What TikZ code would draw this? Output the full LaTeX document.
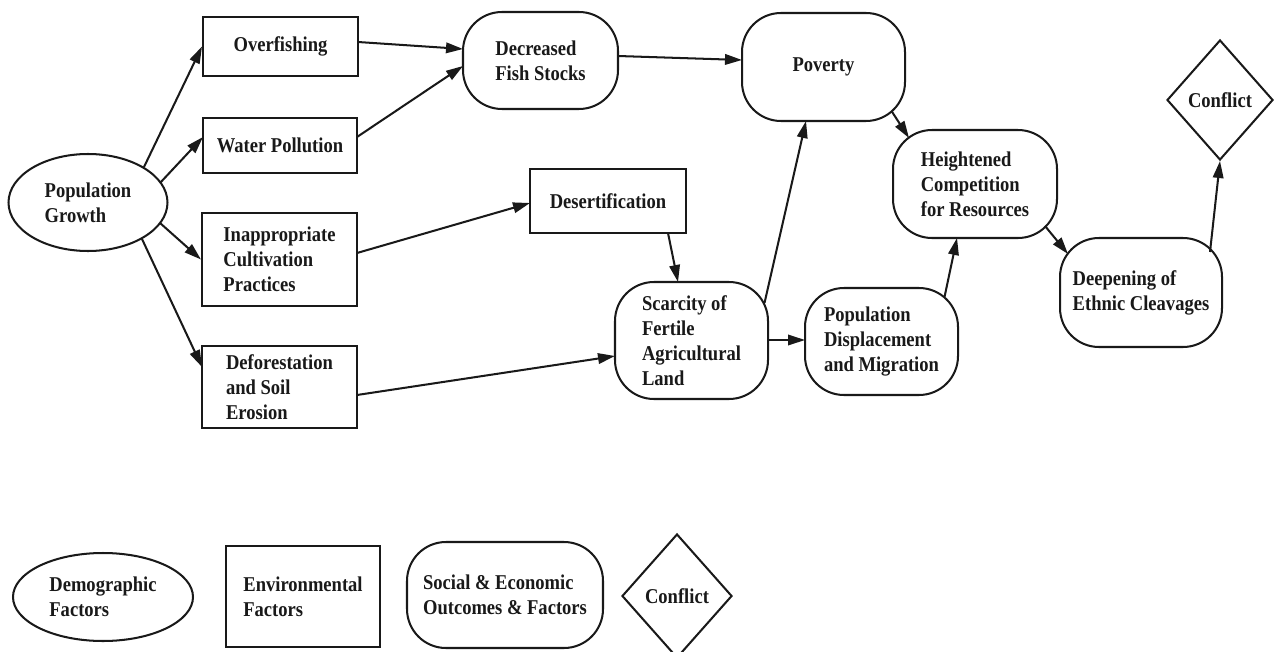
\documentclass[tikz,border=0pt]{standalone}
\usepackage{fontspec}
\setmainfont{Liberation Serif}[FakeStretch=0.88]
\usetikzlibrary{shapes.geometric,arrows.meta}

\begin{document}
\begin{tikzpicture}[x=0.02cm,y=-0.02cm,
  every node/.style={font=\fontsize{12}{14.2}\selectfont\bfseries,
    align=left, inner sep=0pt, line width=1.15pt, draw=black!90, text=black!90},
  sz/.style 2 args={minimum width={#1*0.02cm}, minimum height={#2*0.02cm}},
  demog/.style={ellipse},
  envbox/.style={rectangle},
  socbox/.style={rectangle, rounded corners=0.78cm},
  conf/.style={diamond},
  arr/.style={line width=1.15pt, draw=black!90,
    -{Triangle[length=0.34cm,width=0.21cm]}},
]
% page
\fill[white] (0,0) rectangle (1274,652);
\useasboundingbox (0,0) rectangle (1274,652);

% demographic driver
\node[demog, sz={159}{97}] (pg) at (88,202.5) {Population\\Growth};

% environmental factors
\node[envbox, sz={155}{59}] (of)  at (280.5,46.5) {Overfishing};
\node[envbox, sz={154}{55}] (wp)  at (280,145.5)  {Water Pollution};
\node[envbox, sz={155}{93}] (icp) at (279.5,259.5) {Inappropriate\\Cultivation\\Practices};
\node[envbox, sz={155}{82}] (dse) at (279.5,387)  {Deforestation\\and Soil\\Erosion};
\node[envbox, sz={156}{64}] (des) at (608,201)    {Desertification};

% social and economic outcomes
\node[socbox, sz={155}{97}]  (dfs) at (540.5,60.5) {Decreased\\Fish Stocks};
\node[socbox, sz={163}{108}] (pov) at (823.5,67)   {Poverty};
\node[socbox, sz={153}{117}] (sfl) at (691.5,340.5) {Scarcity of\\Fertile\\Agricultural\\Land};
\node[socbox, sz={153}{107}] (pdm) at (881.5,341.5) {Population\\Displacement\\and Migration};
\node[socbox, sz={164}{108}] (hcr) at (975,184)    {Heightened\\Competition\\for Resources};
\node[socbox, sz={162}{109}] (dec) at (1141,292.5) {Deepening of\\Ethnic Cleavages};

% outcome
\node[conf, sz={106}{120}] (cf) at (1220,100) {Conflict};

% causal links
\draw[arr] ([shift={(56,-35.5)}]pg.center) -- (of.west);
\draw[arr] ([shift={(72,-19.5)}]pg.center) -- ([shift={(-77,-8.5)}]wp.center);
\draw[arr] ([shift={(72,20.5)}]pg.center)  -- (icp.west);
\draw[arr] ([shift={(54,36.5)}]pg.center)  -- ([shift={(-77.5,-20)}]dse.center);
\draw[arr] ([shift={(77.5,-4.5)}]of.center) -- ([shift={(-77.5,-11.5)}]dfs.center);
\draw[arr] ([shift={(77,-8.5)}]wp.center)   -- ([shift={(-77.5,5.5)}]dfs.center);
\draw[arr] ([shift={(77.5,-6.5)}]icp.center) -- ([shift={(-78,2)}]des.center);
\draw[arr] ([shift={(77.5,8)}]dse.center)   -- ([shift={(-76.5,15.5)}]sfl.center);
\draw[arr] ([shift={(77.5,-4.5)}]dfs.center) -- ([shift={(-81.5,-7)}]pov.center);
\draw[arr] ([shift={(60,32)}]des.center)    -- ([shift={(-13.5,-58.5)}]sfl.center);
\draw[arr] ([shift={(73,-37.5)}]sfl.center) -- ([shift={(-17.5,54)}]pov.center);
\draw[arr] ([shift={(76.5,-0.5)}]sfl.center) -- ([shift={(-76.5,-1.5)}]pdm.center);
\draw[arr] ([shift={(63,-44.5)}]pdm.center) -- ([shift={(-18,54)}]hcr.center);
\draw[arr] ([shift={(68,44)}]pov.center)    -- ([shift={(-66,-46)}]hcr.center);
\draw[arr] ([shift={(70,42)}]hcr.center)    -- ([shift={(-73,-38.5)}]dec.center);
\draw[arr] ([shift={(69,-40.5)}]dec.center) -- (cf.south);

% legend
\node[demog,  sz={180}{88}]  (lde) at (103,597)   {Demographic\\Factors};
\node[envbox, sz={154}{101}] (len) at (303,596.5) {Environmental\\Factors};
\node[socbox, sz={196}{106}] (lso) at (505,595)   {Social \& Economic\\Outcomes \& Factors};
\node[conf,   sz={110}{124}] (lcf) at (677,596)   {Conflict};
\end{tikzpicture}
\end{document}
